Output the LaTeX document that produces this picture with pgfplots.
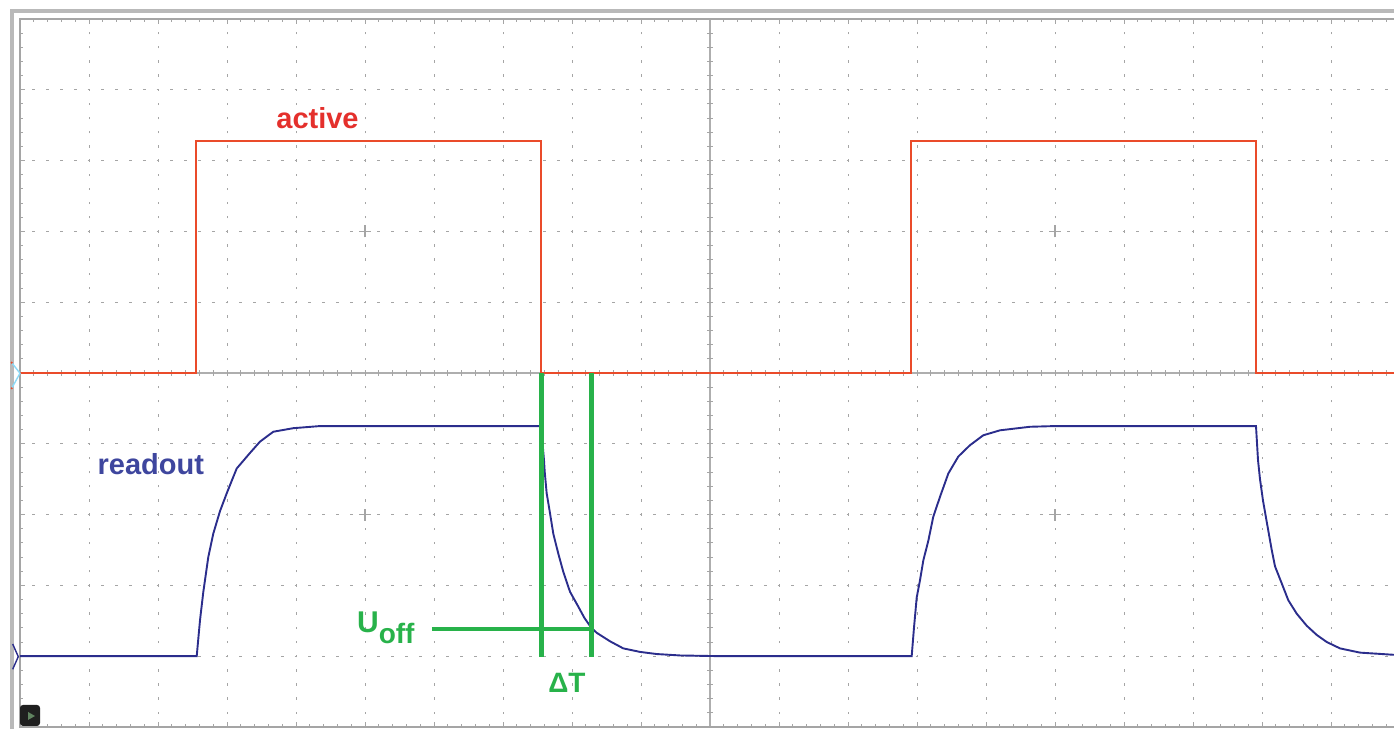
\documentclass[border=0pt]{standalone}
\usepackage{fontspec}
\setmainfont{Liberation Sans}
\usepackage{pgfplots}
\pgfplotsset{compat=1.18}
\definecolor{sigred}{RGB}{234,75,42}
\definecolor{txtred}{RGB}{228,48,44}
\definecolor{sigblue}{RGB}{43,45,140}
\definecolor{txtblue}{RGB}{62,70,158}
\definecolor{mkgreen}{RGB}{40,178,74}
\definecolor{gridc}{RGB}{165,165,165}
\definecolor{framec}{RGB}{185,185,185}
\begin{document}
\begin{tikzpicture}
\begin{axis}[
  scale only axis, width=690pt, height=354pt,
  xmin=0, xmax=20, ymin=0, ymax=10,
  xtick={0,...,20}, ytick={0,...,10},
  minor x tick num=4, minor y tick num=4,
  xticklabel={\relax}, yticklabel={\relax},
  tick align=inside, tick pos=both,
  major tick length=2.6pt, minor tick length=1.5pt,
  every tick/.style={gridc, line width=0.5pt},
  axis line style={gridc, line width=0.6pt},
  clip=false,
]
% dotted grid
\pgfplotsinvokeforeach{1,...,19}{
  \draw[gridc, line width=0.5pt, dash pattern=on 1.2pt off 5.88pt, dash phase=0.6pt] (axis cs:#1,0) -- (axis cs:#1,10);
}
\pgfplotsinvokeforeach{1,...,9}{
  \draw[gridc, line width=0.5pt, dash pattern=on 1.4pt off 5.5pt, dash phase=0.7pt] (axis cs:0,#1) -- (axis cs:20,#1);
}
% centre axes with ticks
\draw[gridc!90, line width=1pt] (axis cs:10,0) -- (axis cs:10,10);
\draw[gridc!90, line width=1pt] (axis cs:0,5) -- (axis cs:20,5);
\draw[gridc, line width=2.6pt, dash pattern=on 0.5pt off 6.58pt, dash phase=0.25pt] (axis cs:10,0) -- (axis cs:10,10);
\draw[gridc, line width=2.6pt, dash pattern=on 0.5pt off 6.4pt, dash phase=0.25pt] (axis cs:0,5) -- (axis cs:20,5);
% crosses
\pgfplotsinvokeforeach{5,15}{
  \draw[gridc, line width=0.6pt] (axis cs:#1-0.087,7) -- (axis cs:#1+0.087,7);
  \draw[gridc, line width=0.6pt] (axis cs:#1,7-0.085) -- (axis cs:#1,7+0.085);
  \draw[gridc, line width=0.6pt] (axis cs:#1-0.087,3) -- (axis cs:#1+0.087,3);
  \draw[gridc, line width=0.6pt] (axis cs:#1,3-0.085) -- (axis cs:#1,3+0.085);
}
% outer frame
\draw[framec, line width=2pt] (axis cs:-0.123,-0.2) -- (axis cs:-0.123,10.106) -- (axis cs:20.5,10.106);
% red signal "active"
\addplot[sigred, line width=1.05pt, line join=miter] coordinates {
 (0,5) (2.55,5) (2.55,8.28) (7.55,8.28) (7.55,5) (12.91,5) (12.91,8.28) (17.91,8.28) (17.91,5) (20,5)
};
% blue signal "readout"
\addplot[sigblue, line width=0.95pt] coordinates {
 (0,1.0) (2.55,1.0) (2.561,1.0) (2.609,1.51) (2.657,1.91) (2.729,2.40) (2.801,2.73)
 (2.899,3.05) (2.996,3.30) (3.140,3.65) (3.333,3.87) (3.478,4.03) (3.671,4.17)
 (3.961,4.22) (4.348,4.25) (7.551,4.25) (7.594,3.77) (7.604,3.61) (7.633,3.30)
 (7.681,3.02) (7.729,2.73) (7.801,2.45) (7.874,2.19) (7.971,1.91) (8.091,1.70)
 (8.180,1.54) (8.28,1.40) (8.358,1.33) (8.551,1.21) (8.743,1.11) (8.986,1.06)
 (9.228,1.03) (9.565,1.01) (10.145,1.0) (12.91,1.0) (12.923,1.0) (12.957,1.41)
 (12.996,1.83) (13.043,2.07) (13.091,2.35) (13.164,2.63) (13.236,2.97) (13.333,3.25)
 (13.454,3.58) (13.599,3.82) (13.768,3.98) (13.961,4.12) (14.203,4.19) (14.638,4.24)
 (15.0,4.25) (17.913,4.25) (17.942,3.77) (17.971,3.50) (18.014,3.20) (18.068,2.90)
 (18.141,2.50) (18.188,2.27) (18.285,2.03) (18.381,1.79) (18.503,1.60) (18.648,1.43)
 (18.793,1.30) (18.938,1.20) (19.130,1.11) (19.420,1.05) (19.899,1.02) (20,1.02)
};
% green markers
\draw[mkgreen, line width=2.2pt] (axis cs:7.56,5.0) -- (axis cs:7.56,0.99);
\draw[mkgreen, line width=2.2pt] (axis cs:8.28,5.0) -- (axis cs:8.28,0.99);
\draw[mkgreen, line width=2.2pt] (axis cs:5.97,1.38) -- (axis cs:8.30,1.38);
% channel markers
\draw[cyan!45, line width=0.7pt] (axis cs:-0.120,5.145) -- (axis cs:0,4.996) -- (axis cs:-0.120,4.784);
\fill[sigred] (axis cs:-0.120,5.145) circle (0.6pt);
\fill[sigred] (axis cs:-0.120,4.784) circle (0.6pt);
\draw[sigblue, line width=0.7pt] (axis cs:-0.106,1.172) -- (axis cs:-0.025,0.993) -- (axis cs:-0.106,0.815);
% play icon
\fill[black!88, rounded corners=1.5pt] (axis cs:0.0,0.014) rectangle (axis cs:0.29,0.311);
\fill[black!45!green!25!gray] (axis cs:0.116,0.212) -- (axis cs:0.116,0.099) -- (axis cs:0.217,0.155) -- cycle;
% labels
\node[anchor=base west, inner sep=0pt, text=txtred, font=\fontsize{14.5pt}{16pt}\selectfont\bfseries] at (axis cs:3.71,8.45) {active};
\node[anchor=base west, inner sep=0pt, text=txtblue, font=\fontsize{14.5pt}{16pt}\selectfont\bfseries] at (axis cs:1.12,3.57) {readout};
\node[anchor=base west, inner sep=0pt, text=mkgreen, font=\fontsize{15pt}{16pt}\selectfont\bfseries] at (axis cs:4.88,1.34) {U\raisebox{-5.5pt}{\fontsize{14pt}{15pt}\selectfont off}};
\node[anchor=base west, inner sep=0pt, text=mkgreen, font=\fontsize{14pt}{16pt}\selectfont\bfseries] at (axis cs:7.65,0.48) {ΔT};
\coordinate (bbsw) at (axis cs:-0.2899,-0.0282);
\coordinate (bbne) at (axis cs:19.913,10.268);
\end{axis}
\pgfresetboundingbox
\useasboundingbox (bbsw) rectangle (bbne);
\end{tikzpicture}
\end{document}
